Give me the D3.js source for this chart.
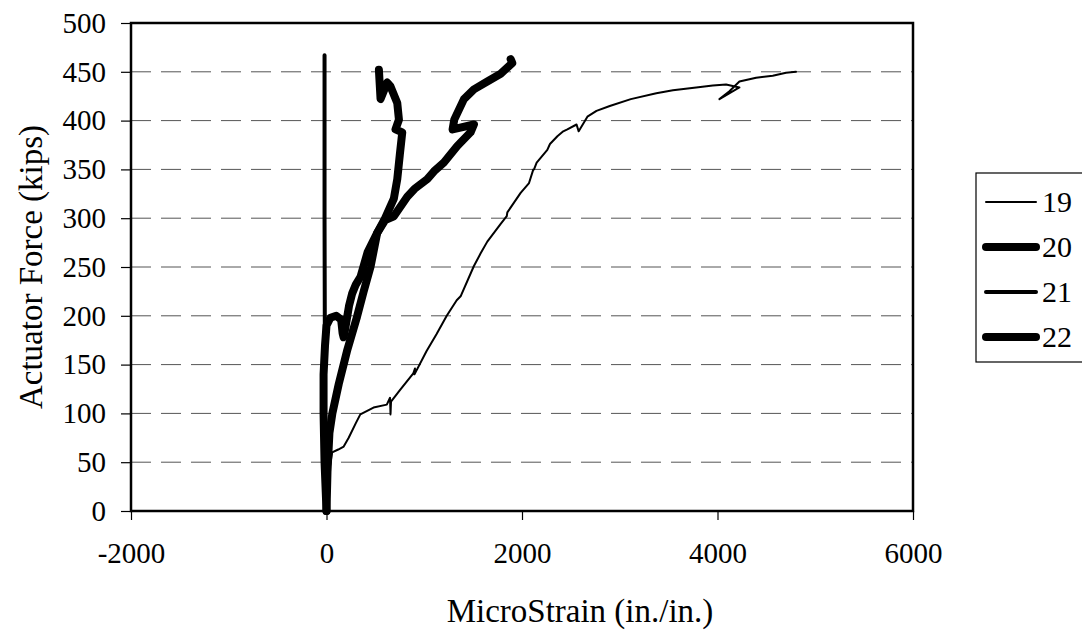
<!DOCTYPE html>
<html><head><meta charset="utf-8">
<script src="https://cdn.jsdelivr.net/npm/d3@7"></script>
<style>body{margin:0;background:#fff;} svg{display:block;}</style>
</head><body><svg id="c" width="1082" height="632"></svg>
<script>
const xTicks = [-2000, 0, 2000, 4000, 6000];
const yTicks = [0, 50, 100, 150, 200, 250, 300, 350, 400, 450, 500];
const seriesNames = ["19", "20", "21", "22"];
const s19 = [[0,0],[10,30],[58,60],[120,63],[176,66],[227,75],[300,90],[346,99],[481,106],[617,109],[650,116],[655,99],[660,112],[753,124],[888,141],[905,146],[900,140],[1024,164],[1125,181],[1230,200],[1332,216],[1372,220],[1508,251],[1577,264],[1645,276],[1780,294],[1844,302],[1850,306],[1918,316],[1986,326],[2072,336],[2116,350],[2123,350],[2150,357],[2259,370],[2286,376],[2362,384],[2422,389],[2464,391],[2558,396],[2580,389],[2669,404],[2762,410],[2898,415],[3113,422],[3374,428],[3544,431],[3782,434],[3952,436],[4088,437],[4224,434],[4020,422],[4122,430],[4224,440],[4395,444],[4565,446],[4701,449],[4803,450]];
const s20 = [[0,0],[10,40],[30,80],[60,100],[125,130],[210,164],[312,199],[380,225],[450,250],[519,285],[600,298],[689,302],[826,322],[900,330],[1031,340],[1100,348],[1201,357],[1338,374],[1474,388],[1508,396],[1290,391],[1307,401],[1406,422],[1508,432],[1645,440],[1782,448],[1901,459],[1884,463]];
const s21 = [[-10,0],[-15,100],[-20,300],[-20,467]];
const s22 = [[0,0],[-20,50],[-30,100],[-30,140],[-15,170],[0,190],[40,198],[100,200],[150,196],[165,182],[175,178],[190,186],[230,210],[263,223],[300,232],[348,240],[420,265],[519,285],[600,300],[689,320],[724,340],[750,365],[775,388],[706,391],[741,401],[724,418],[655,435],[621,439],[553,422],[536,452]];
const seriesData = [s19, s20, s21, s22];
const seriesWidth = [2, 8, 4, 8];

const svg = d3.select("#c");
const L = 131, R = 913, T = 23, B = 511;
const x = d3.scaleLinear().domain([-2000, 6000]).range([L, R]);
const y = d3.scaleLinear().domain([0, 500]).range([B, T]);
const font = "'Liberation Serif','Times New Roman',serif";

// gridlines
svg.append("g").selectAll("line").data(yTicks.filter(v => v > 0 && v < 500)).join("line")
  .attr("x1", L).attr("x2", R).attr("y1", d => y(d)).attr("y2", d => y(d))
  .attr("stroke", "#555").attr("stroke-width", 1).attr("stroke-dasharray", "20,10");

// axes
const xa = svg.append("g").attr("transform", `translate(0,${B})`)
  .call(d3.axisBottom(x).tickValues(xTicks).tickSize(9).tickPadding(22).tickFormat(d => String(d)));
const ya = svg.append("g").attr("transform", `translate(${L},0)`)
  .call(d3.axisLeft(y).tickValues(yTicks).tickSize(10).tickPadding(15).tickFormat(d => String(d)));
[xa, ya].forEach(a => {
  a.select(".domain").remove();
  a.selectAll("line").attr("stroke", "#000").attr("stroke-width", 1.2);
  a.selectAll("text").attr("font-family", font).attr("font-size", 29).attr("fill", "#000");
});

// series
const line = d3.line().x(d => x(d[0])).y(d => y(d[1]));
svg.append("g").selectAll("path").data(seriesData).join("path")
  .attr("d", line).attr("fill", "none").attr("stroke", "#000")
  .attr("stroke-width", (d, i) => seriesWidth[i]).attr("stroke-linejoin", "round").attr("stroke-linecap", "round");

// frame
svg.append("rect").attr("x", L).attr("y", T).attr("width", R - L).attr("height", B - T)
  .attr("fill", "none").attr("stroke", "#000").attr("stroke-width", 2.5);

// titles
svg.append("text").attr("x", 580).attr("y", 622).attr("text-anchor", "middle")
  .attr("font-family", font).attr("font-size", 33).text("MicroStrain (in./in.)");
svg.append("text").attr("transform", `translate(42,${(T + B) / 2}) rotate(-90)`).attr("text-anchor", "middle")
  .attr("font-family", font).attr("font-size", 33).text("Actuator Force (kips)");

// legend
const lg = svg.append("g");
lg.append("rect").attr("x", 976).attr("y", 173).attr("width", 110).attr("height", 189)
  .attr("fill", "#fff").attr("stroke", "#000").attr("stroke-width", 1.2);
const rows = lg.selectAll("g").data(seriesNames).join("g")
  .attr("transform", (d, i) => `translate(0,${202 + i * 45})`);
rows.append("line").attr("x1", 986).attr("x2", 1036).attr("y1", 0).attr("y2", 0)
  .attr("stroke", "#000").attr("stroke-width", (d, i) => seriesWidth[i]).attr("stroke-linecap", "round");
rows.append("text").attr("x", 1042).attr("y", 10).attr("font-family", font).attr("font-size", 30).text(d => d);
</script></body></html>
